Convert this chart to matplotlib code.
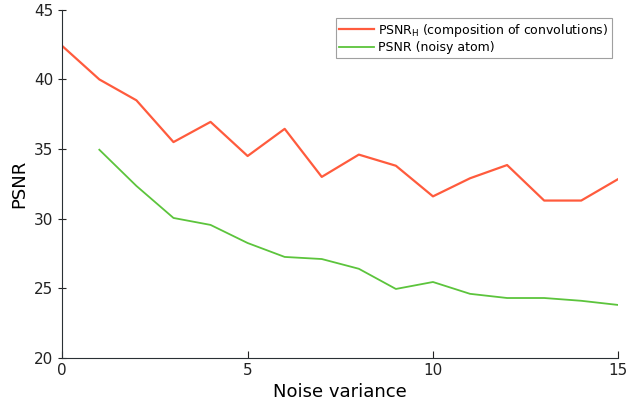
import numpy as np
from matplotlib import pyplot as plt

# 데이터
noise_var = np.arange(0, 16)
psnr_h = [42.4, 40.0, 38.5, 35.5, 36.95, 34.5, 36.45, 33.0, 34.6, 33.8,
          31.6, 32.9, 33.85, 31.3, 31.3, 32.85]
noise_var_atom = np.arange(1, 16)
psnr_atom = [34.95, 32.35, 30.05, 29.55, 28.25, 27.25, 27.1, 26.4, 24.95,
             25.45, 24.6, 24.3, 24.3, 24.1, 23.8]

fig = plt.figure(figsize=(6.29, 4.09), dpi=100)
ax = fig.add_axes([0.099, 0.125, 0.884, 0.851])

ax.plot(noise_var, psnr_h, color='#ff5b3d', lw=1.6,
        label=r'PSNR$_\mathrm{H}$ (composition of convolutions)')
ax.plot(noise_var_atom, psnr_atom, color='#5cc43c', lw=1.3,
        label='PSNR (noisy atom)')

ax.set_xlim(0, 15)
ax.set_ylim(20, 45)
ax.set_xticks([0, 5, 10, 15])
ax.set_yticks([20, 25, 30, 35, 40, 45])
ax.spines['top'].set_visible(False)
ax.spines['right'].set_visible(False)
for s in ['left', 'bottom']:
    ax.spines[s].set_color('#2a3035')
ax.tick_params(axis='x', direction='in', length=5, labelsize=11, colors='#222222')
ax.tick_params(axis='y', direction='inout', length=6, labelsize=11, colors='#222222')

ax.set_xlabel('Noise variance', fontsize=13)
ax.set_ylabel('PSNR', fontsize=13)

leg = ax.legend(loc='upper right', fontsize=9, fancybox=False,
                borderpad=0.3, handlelength=2.8, handletextpad=0.3,
                labelspacing=0.2, bbox_to_anchor=(1.0, 0.995))
leg.get_frame().set_edgecolor('#888888')
leg.get_frame().set_linewidth(0.8)

plt.savefig('out.png', dpi=100)
